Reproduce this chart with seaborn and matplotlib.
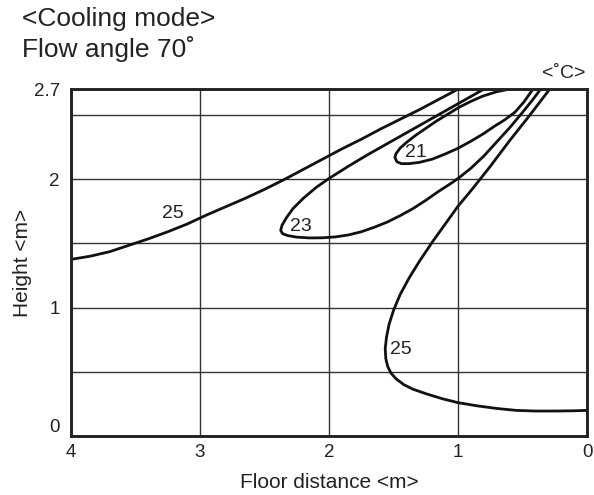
import matplotlib
matplotlib.use("Agg")
import matplotlib.pyplot as plt
import seaborn as sns
import pandas as pd

# 25 ˚C isotherm, upper-left branch (floor distance <m>, height <m>)
iso25_upper_x = [4.0, 3.85, 3.7, 3.55, 3.4, 3.25, 3.1, 2.95, 2.8, 2.65, 2.5, 2.35,
                 2.2, 2.05, 1.9, 1.75, 1.6, 1.45, 1.3, 1.15, 1.0]
iso25_upper_y = [1.375, 1.40, 1.435, 1.485, 1.535, 1.59, 1.65, 1.72, 1.785, 1.85, 1.92, 1.995,
                 2.075, 2.155, 2.235, 2.31, 2.39, 2.465, 2.54, 2.62, 2.70]

# 25 ˚C isotherm, right branch (from ceiling down to the floor side)
iso25_right_x = [0.29, 0.45, 0.6, 0.75, 0.9, 1.0, 1.1, 1.2, 1.3, 1.38, 1.45, 1.5,
                 1.535, 1.555, 1.565, 1.56, 1.545, 1.52, 1.48, 1.42, 1.35, 1.25,
                 1.12, 1.0, 0.85, 0.7, 0.55, 0.4, 0.25, 0.1, 0.0]
iso25_right_y = [2.70, 2.49, 2.30, 2.10, 1.91, 1.79, 1.65, 1.51, 1.36, 1.23, 1.10, 0.98,
                 0.87, 0.77, 0.68, 0.60, 0.54, 0.49, 0.445, 0.40, 0.365, 0.33,
                 0.29, 0.26, 0.235, 0.215, 0.20, 0.195, 0.195, 0.197, 0.20]

# 23 ˚C isotherm (loop)
iso23_x = [0.80, 0.95, 1.1, 1.25, 1.4, 1.55, 1.7, 1.85, 2.0, 2.1, 2.2, 2.28, 2.33,
           2.365, 2.375, 2.36, 2.32, 2.25, 2.15, 2.05, 1.95, 1.85, 1.75, 1.65, 1.55,
           1.45, 1.35, 1.25, 1.15, 1.05, 1.0, 0.9, 0.8, 0.7, 0.6, 0.5, 0.42, 0.36]
iso23_y = [2.70, 2.615, 2.53, 2.445, 2.36, 2.275, 2.19, 2.10, 2.005, 1.935, 1.85, 1.77, 1.70,
           1.64, 1.60, 1.575, 1.56, 1.548, 1.542, 1.543, 1.55, 1.565, 1.59, 1.625, 1.665,
           1.715, 1.77, 1.835, 1.905, 1.97, 2.005, 2.085, 2.18, 2.29, 2.40, 2.52, 2.62, 2.70]

# 21 ˚C isotherm (loop)
iso21_x = [0.60, 0.7, 0.81, 0.9, 0.99, 1.08, 1.17, 1.25, 1.33, 1.40, 1.45, 1.48, 1.49,
           1.475, 1.44, 1.38, 1.3, 1.2, 1.1, 1.0, 0.9, 0.8, 0.72, 0.64, 0.56, 0.49, 0.42]
iso21_y = [2.70, 2.68, 2.645, 2.605, 2.56, 2.505, 2.45, 2.395, 2.34, 2.285, 2.24, 2.20, 2.17,
           2.135, 2.12, 2.12, 2.13, 2.155, 2.195, 2.24, 2.295, 2.355, 2.41, 2.46, 2.52, 2.60, 2.70]

# contour labels
label_text = ["25", "23", "21", "25"]
label_x = [3.21, 2.22, 1.33, 1.44]
label_y = [1.73, 1.63, 2.21, 0.67]

sns.set_style("white")
plt.rcParams["font.family"] = ["Liberation Sans", "DejaVu Sans"]

fig = plt.figure(figsize=(5.94, 4.95), dpi=100)
ax = fig.add_axes([0.1195, 0.119, 0.869, 0.701])

curves = [
    (iso25_upper_x, iso25_upper_y),
    (iso25_right_x, iso25_right_y),
    (iso23_x, iso23_y),
    (iso21_x, iso21_y),
]
for cx, cy in curves:
    d = pd.DataFrame({"x": cx, "y": cy})
    sns.lineplot(data=d, x="x", y="y", sort=False, estimator=None,
                 color="#111111", linewidth=2.0, ax=ax)

for t, lx, ly in zip(label_text, label_x, label_y):
    ax.text(lx, ly, t, fontsize=14, ha="center", va="center", color="#222222")

ax.set_xlim(4, 0)
ax.set_ylim(0, 2.7)
ax.set_xticks([4, 3, 2, 1, 0])
ax.set_xticklabels(["4", "3", "2", "1", "0"])
ax.set_yticks([0, 0.5, 1, 1.5, 2, 2.5, 2.7])
ax.set_yticklabels(["0", "", "1", "", "2", "", "2.7"])
ax.get_yticklabels()[0].set_va("bottom")
ax.tick_params(axis="x", length=0, labelsize=13.5, pad=6, colors="#222222")
ax.tick_params(axis="y", length=4, width=1, direction="out", labelsize=13.5,
               pad=4, colors="#222222")
ax.grid(True, color="#333333", linewidth=1.0)
for sp in ax.spines.values():
    sp.set_color("#222222")
    sp.set_linewidth(2.1)
ax.set_xlabel("Floor distance <m>", fontsize=15, color="#222222", labelpad=8)
ax.set_ylabel("Height <m>", fontsize=15, color="#222222", labelpad=1)

fig.text(0.037, 0.962, "<Cooling mode>", fontsize=19, ha="left", va="center", color="#222222")
fig.text(0.037, 0.900, "Flow angle 70˚", fontsize=19, ha="left", va="center", color="#222222")
fig.text(0.985, 0.852, "<˚C>", fontsize=14, ha="right", va="center", color="#222222")

fig.savefig("out.png", dpi=100)
